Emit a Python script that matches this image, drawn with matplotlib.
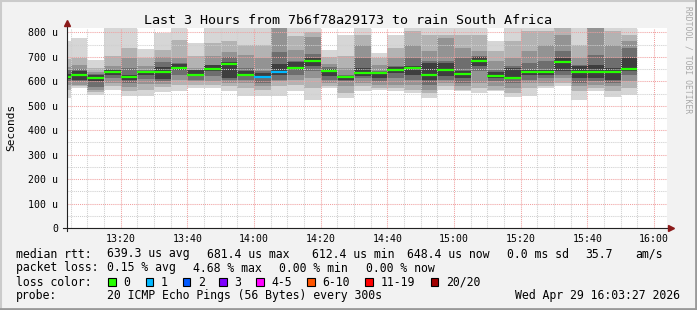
import matplotlib
matplotlib.use("Agg")
import matplotlib.pyplot as plt
from matplotlib.patches import Rectangle
from matplotlib.lines import Line2D
from matplotlib.ticker import FixedLocator

# ---------------- data (values in microseconds, time in minutes after 13:00) ----------------
bar_start_min = [0, 5, 10, 15, 20, 25, 30, 35, 40, 45, 50, 55, 60, 65, 70, 75, 80, 85,
                 90, 95, 100, 105, 110, 115, 120, 125, 130, 135, 140, 145, 150, 155, 160, 165, 170]
median_us = [619, 627, 612.4, 639, 616, 636, 640, 655, 627, 652, 671, 627, 619, 640, 655, 681.4, 644, 616,
             632, 632, 647, 653, 624, 647, 628, 681, 620, 615, 639, 636, 677, 640, 636, 636, 648.4]
loss_count = [0, 0, 0, 0, 0, 0, 0, 0, 0, 0, 0, 0, 1, 1, 0, 0, 0, 0,
              0, 0, 0, 0, 0, 0, 0, 0, 0, 0, 0, 0, 0, 0, 0, 0, 0]
# smoke bands: outermost (1) to innermost (5)
hi_1 = [763, 777, 688, 840, 840, 733, 797, 840, 756, 840, 840, 840, 830, 860, 840, 850, 729, 791,
        830, 716, 791, 830, 830, 830, 830, 840, 763, 830, 830, 830, 840, 830, 850, 830, 830]
hi_2 = [690, 695, 654, 702, 736, 695, 730, 770, 702, 757, 763, 750, 750, 850, 784, 800, 700, 702,
        791, 695, 736, 804, 791, 790, 791, 790, 722, 763, 804, 804, 818, 750, 840, 804, 791]
hi_3 = [660, 668, 640, 661, 695, 661, 700, 695, 654, 702, 720, 709, 695, 840, 729, 780, 670, 654,
        750, 668, 695, 750, 722, 777, 736, 722, 682, 695, 722, 750, 791, 695, 818, 750, 763]
hi_4 = [645, 650, 630, 650, 654, 647, 680, 675, 647, 668, 700, 654, 641, 720, 682, 710, 658, 627,
        695, 641, 661, 695, 682, 682, 695, 702, 647, 661, 675, 682, 722, 668, 709, 695, 736]
hi_5 = [630, 641, 627, 647, 627, 643, 660, 672, 645, 665, 680, 641, 634, 670, 680, 695, 650, 622,
        654, 638, 658, 661, 675, 675, 641, 700, 640, 655, 647, 647, 695, 661, 668, 654, 695]
lo_5 = [610, 607, 600, 627, 607, 627, 610, 647, 620, 641, 613, 620, 613, 627, 647, 661, 620, 607,
        620, 613, 634, 627, 607, 620, 613, 661, 613, 610, 627, 627, 641, 613, 613, 607, 641]
lo_4 = [600, 600, 575, 615, 593, 610, 600, 627, 607, 620, 607, 607, 593, 607, 627, 641, 607, 600,
        613, 600, 613, 607, 586, 607, 593, 641, 600, 593, 607, 613, 627, 593, 600, 593, 627]
lo_3 = [585, 586, 565, 595, 575, 590, 590, 607, 600, 600, 593, 593, 579, 600, 607, 613, 593, 580,
        593, 586, 586, 586, 566, 593, 579, 593, 579, 573, 593, 593, 613, 579, 586, 579, 600]
lo_2 = [566, 580, 555, 580, 559, 566, 575, 586, 586, 586, 579, 573, 566, 579, 586, 573, 579, 552,
        579, 573, 573, 566, 552, 579, 566, 573, 566, 552, 573, 579, 593, 559, 573, 559, 573]
lo_1 = [532, 572, 543, 566, 538, 538, 555, 561, 572, 572, 559, 538, 538, 540, 559, 525, 573, 532,
        559, 566, 559, 552, 532, 566, 559, 552, 559, 534, 538, 572, 579, 525, 559, 534, 545]

y_ticks_us = [0, 100, 200, 300, 400, 500, 600, 700, 800]
x_tick_labels = ["13:20", "13:40", "14:00", "14:20", "14:40", "15:00", "15:20", "15:40", "16:00"]
x_tick_min = [20, 40, 60, 80, 100, 120, 140, 160, 180]

loss_labels = ["0", "1", "2", "3", "4-5", "6-10", "11-19", "20/20"]
loss_colors = ["#26ff00", "#00b8ff", "#0059ff", "#7e00ff", "#ff00ff", "#ff5500", "#ff0000", "#a10000"]

title = "Last 3 Hours from 7b6f78a29173 to rain South Africa"

# ---------------- figure ----------------
W, H = 697, 310
fig = plt.figure(figsize=(W / 100, H / 100), dpi=100, facecolor="#f2f2f2")
mono = "DejaVu Sans Mono"


def px(x, y):
    return x / W, 1 - y / H


ax = fig.add_axes([67 / W, 82 / H, 600 / W, 200 / H], facecolor="white")
ax.set_xlim(3.9, 183.9)
ax.set_ylim(0, 818)

shades = ["#d6d6d6", "#b3b3b3", "#939393", "#6e6e6e", "#3e3e3e"]
his = [hi_1, hi_2, hi_3, hi_4, hi_5]
los = [lo_1, lo_2, lo_3, lo_4, lo_5]
for k in range(5):
    heights = [h - l for h, l in zip(his[k], los[k])]
    ax.bar(bar_start_min, heights, bottom=los[k], width=5, align="edge",
           color=shades[k], linewidth=0, zorder=1 + k * 0.1)


def loss_color(n):
    if n <= 3:
        return loss_colors[n]
    if n <= 5:
        return loss_colors[4]
    if n <= 10:
        return loss_colors[5]
    if n <= 19:
        return loss_colors[6]
    return loss_colors[7]


for s, m, n in zip(bar_start_min, median_us, loss_count):
    ax.hlines(m, s, s + 5, colors=loss_color(n), linewidth=1.6, zorder=4)

# grid
ax.set_yticks(y_ticks_us)
ax.set_yticklabels([("%d u" % v) if v else "0" for v in y_ticks_us])
ax.yaxis.set_minor_locator(FixedLocator([v + 50 for v in y_ticks_us]))
ax.set_xticks(x_tick_min)
ax.set_xticklabels(x_tick_labels)
ax.xaxis.set_minor_locator(FixedLocator([m for m in range(5, 185, 5) if m % 20]))
ax.set_axisbelow(False)
ax.grid(which="major", color="#f0a0a0", linestyle=(0, (1, 1)), linewidth=0.75)
ax.grid(which="minor", color="#cfcfcf", linestyle=(0, (1, 1)), linewidth=0.75)
ax.tick_params(which="both", length=0)
ax.tick_params(axis="y", pad=6.5, labelsize=7.1)
ax.tick_params(axis="x", pad=4, labelsize=7.1)
for lab in ax.get_xticklabels() + ax.get_yticklabels():
    lab.set_fontfamily(mono)
for sp in ax.spines.values():
    sp.set_visible(False)

# axis lines with arrows
ax.plot([0, 0], [-0.015, 1.02], transform=ax.transAxes, color="#222222", lw=0.8,
        clip_on=False, zorder=5)
ax.plot([-4 / 600, 1.003], [0, 0], transform=ax.transAxes, color="#222222", lw=0.8,
        clip_on=False, zorder=5)
ax.plot([0], [1.027], marker="^", markersize=4, color="#8b1a1a", transform=ax.transAxes,
        clip_on=False, zorder=6)
ax.plot([1.006], [0], marker=">", markersize=4, color="#8b1a1a", transform=ax.transAxes,
        clip_on=False, zorder=6)

# title and labels
fig.text(*px(347.5, 24), title, ha="center", va="baseline", fontsize=9.6, family=mono)
fig.text(*px(11, 127), "Seconds", rotation=90, ha="center", va="center", fontsize=8, family=mono)
fig.text(*px(688, 60), "RRDTOOL / TOBI OETIKER", rotation=-90, ha="center", va="center",
         fontsize=5.8, color="#a8a8a8", family=mono)

# legend rows
fs = 8.3
rows = [
    (257.5, [(16, "median rtt:"), (107.3, "639.3 us avg"), (207, "681.4 us max"),
             (312.3, "612.4 us min"), (406.7, "648.4 us now"), (507.3, "0.0 ms sd"),
             (585.7, "35.7"), (635, "am/s")]),
    (271.5, [(16, "packet loss:"), (107.3, "0.15 % avg"), (193.3, "4.68 % max"),
             (279.3, "0.00 % min"), (366, "0.00 % now")]),
    (285.5, [(16, "loss color:")]),
    (299.5, [(16, "probe:"), (107.3, "20 ICMP Echo Pings (56 Bytes) every 300s")]),
]
for yb, items in rows:
    for x, t in items:
        fig.text(*px(x, yb), t, ha="left", va="baseline", fontsize=fs, family=mono)
fig.text(*px(680, 299.5), "Wed Apr 29 16:03:27 2026", ha="right", va="baseline",
         fontsize=fs, family=mono)

box_x = [108.3, 145.7, 182.7, 219.3, 256, 307.3, 365.3, 430.7]
for bx, lab, col in zip(box_x, loss_labels, loss_colors):
    fig.patches.append(Rectangle(px(bx, 286), 7.7 / W, 7.7 / H, transform=fig.transFigure,
                                 facecolor=col, edgecolor="black", linewidth=0.8))
    fig.text(*px(bx + 15, 285.5), lab, ha="left", va="baseline", fontsize=fs, family=mono)

# frame shading
fig.add_artist(Line2D([0, 1], [1 - 0.5 / H, 1 - 0.5 / H], color="#cbcbcb", lw=1.5, transform=fig.transFigure))
fig.add_artist(Line2D([0.5 / W, 0.5 / W], [0, 1], color="#cbcbcb", lw=1.5, transform=fig.transFigure))
fig.add_artist(Line2D([0, 1], [1 / H, 1 / H], color="#999999", lw=2, transform=fig.transFigure))
fig.add_artist(Line2D([1 - 1 / W, 1 - 1 / W], [0, 1], color="#999999", lw=2, transform=fig.transFigure))

fig.savefig("out.png", dpi=100, facecolor=fig.get_facecolor())
